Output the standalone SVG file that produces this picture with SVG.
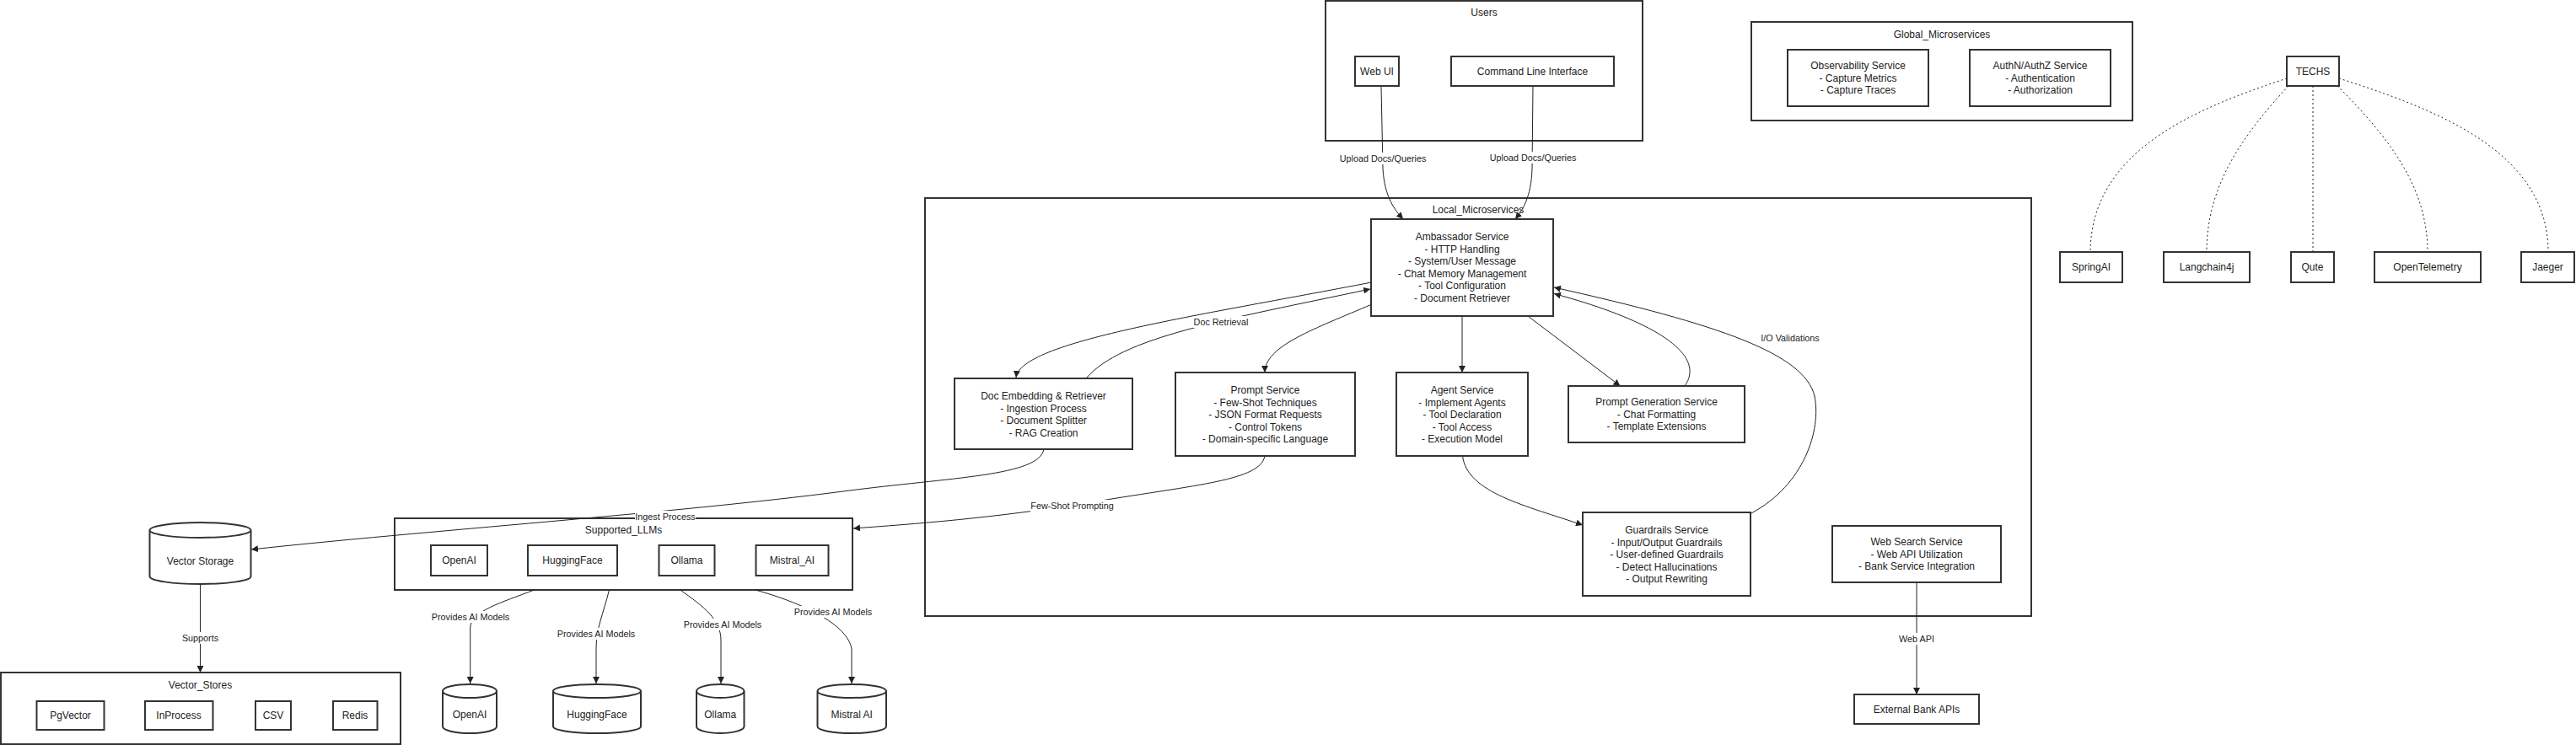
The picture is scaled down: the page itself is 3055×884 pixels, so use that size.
<svg xmlns="http://www.w3.org/2000/svg" width="3055" height="884" viewBox="0 0 3055 884">
<style>
.cl{fill:#fff;stroke:#333;stroke-width:2}
.nd{fill:#fff;stroke:#333;stroke-width:2}
.t{font-family:"Liberation Sans",Arial,sans-serif;font-size:12px;fill:#222;text-anchor:middle;dominant-baseline:central}
.el{font-family:"Liberation Sans",Arial,sans-serif;font-size:10.8px;fill:#222;text-anchor:middle;dominant-baseline:central}
.lb{fill:#fff;stroke:none}
.e{fill:none;stroke:#222;stroke-width:1}
.dot{stroke-dasharray:2 3}
</style>
<defs>
<marker id="ah" viewBox="0 0 10 10" refX="10" refY="5" markerWidth="8" markerHeight="8" markerUnits="userSpaceOnUse" orient="auto">
<path d="M0,0 L10,5 L0,10 z" fill="#222"/>
</marker>
</defs>
<rect width="3055" height="884" fill="#fff"/>

<!-- clusters -->
<g id="cluster-users"><rect class="cl" x="1572" y="1" width="376" height="166"/><text class="t" x="1760" y="15">Users</text></g>
<g id="cluster-global"><rect class="cl" x="2077" y="26" width="452" height="117"/><text class="t" x="2303" y="41">Global_Microservices</text></g>
<g id="cluster-local"><rect class="cl" x="1097" y="235" width="1312" height="496"/><text class="t" x="1753" y="249">Local_Microservices</text></g>
<g id="cluster-llms"><rect class="cl" x="468" y="615" width="543" height="85"/><text class="t" x="739.5" y="629">Supported_LLMs</text></g>
<g id="cluster-vstores"><rect class="cl" x="1" y="798" width="474" height="85"/><text class="t" x="237.5" y="813">Vector_Stores</text></g>

<!-- connectors -->
<g id="connectors">
<path class="e" marker-end="url(#ah)" d="M1638,102 L1640,200 C1642,235 1655,250 1664,260"/>
<path class="e" marker-end="url(#ah)" d="M1818,102 L1817,200 C1816,235 1805,250 1797,260"/>
<path class="e" marker-end="url(#ah)" d="M1626.5,335 C1420,375 1210,405 1205,448"/>
<path class="e" marker-end="url(#ah)" d="M1288,449 C1330,400 1450,380 1625,343"/>
<path class="e" marker-end="url(#ah)" d="M1627,361 C1560,390 1500,410 1500,442"/>
<path class="e" marker-end="url(#ah)" d="M1734,375 L1734,442"/>
<path class="e" marker-end="url(#ah)" d="M1812,375 L1921.5,458"/>
<path class="e" marker-end="url(#ah)" d="M1998,458 C2025,420 1960,380 1843,348.5"/>
<path class="e" marker-end="url(#ah)" d="M2077,609 C2140,575 2160,510 2152,470 C2140,420 2040,385 1843,341"/>
<path class="e" marker-end="url(#ah)" d="M1734.5,541 C1740,585 1810,600 1877,623"/>
<path class="e" marker-end="url(#ah)" d="M1238,533 C1232,565 1130,566 1000,583 C800,609 500,630 298,652"/>
<path class="e" marker-end="url(#ah)" d="M1500,541 C1495,570 1420,575 1300,595 C1180,615 1080,622 1012,627"/>
<path class="e" marker-end="url(#ah)" d="M2273,691 L2273,824"/>
<path class="e" marker-end="url(#ah)" d="M237.5,693 L237.5,798"/>
<path class="e" marker-end="url(#ah)" d="M633.5,700 C595,715 558,725 557.7,745 L557.7,811"/>
<path class="e" marker-end="url(#ah)" d="M722.5,700 C715,730 707,745 707,770 L707,811"/>
<path class="e" marker-end="url(#ah)" d="M806.7,700 C835,720 855,735 855,760 L855,811"/>
<path class="e" marker-end="url(#ah)" d="M895.8,700 C950,715 1005,740 1010,770 L1010,811"/>
<path class="e dot" d="M2712,93 C2600,130 2480,180 2479,299"/>
<path class="e dot" d="M2714,102 C2660,160 2617,220 2617,299"/>
<path class="e dot" d="M2743,102 L2743,299"/>
<path class="e dot" d="M2772,102 C2830,160 2879,220 2879,299"/>
<path class="e dot" d="M2774,93 C2890,130 3022,180 3022,299"/>
</g>

<!-- nodes -->
<g id="n-webui"><rect class="nd" x="1607" y="67" width="52" height="35"/><text class="t" x="1633" y="84.5">Web UI</text></g>
<g id="n-cli"><rect class="nd" x="1721" y="67" width="193" height="35"/><text class="t" x="1817.5" y="84.5">Command Line Interface</text></g>
<g id="n-obs"><rect class="nd" x="2120" y="59" width="167" height="67"/><text class="t"><tspan x="2203.5" y="78">Observability Service</tspan><tspan x="2203.5" y="92.5">- Capture Metrics</tspan><tspan x="2203.5" y="107">- Capture Traces</tspan></text></g>
<g id="n-auth"><rect class="nd" x="2336" y="59" width="167" height="67"/><text class="t"><tspan x="2419.5" y="78">AuthN/AuthZ Service</tspan><tspan x="2419.5" y="92.5">- Authentication</tspan><tspan x="2419.5" y="107">- Authorization</tspan></text></g>
<g id="n-techs"><rect class="nd" x="2712" y="67" width="62" height="35"/><text class="t" x="2743" y="84.5">TECHS</text></g>
<g id="n-springai"><rect class="nd" x="2443" y="299" width="74" height="36"/><text class="t" x="2480" y="317">SpringAI</text></g>
<g id="n-langchain4j"><rect class="nd" x="2566" y="299" width="102" height="36"/><text class="t" x="2617" y="317">Langchain4j</text></g>
<g id="n-qute"><rect class="nd" x="2717" y="299" width="51" height="36"/><text class="t" x="2742.5" y="317">Qute</text></g>
<g id="n-otel"><rect class="nd" x="2816" y="299" width="126" height="36"/><text class="t" x="2879" y="317">OpenTelemetry</text></g>
<g id="n-jaeger"><rect class="nd" x="2990" y="299" width="63" height="36"/><text class="t" x="3021.5" y="317">Jaeger</text></g>

<g id="n-ambassador"><rect class="nd" x="1626" y="260" width="216" height="115"/><text class="t"><tspan x="1734" y="281">Ambassador Service</tspan><tspan x="1734" y="295.5">- HTTP Handling</tspan><tspan x="1734" y="310">- System/User Message</tspan><tspan x="1734" y="324.5">- Chat Memory Management</tspan><tspan x="1734" y="339">- Tool Configuration</tspan><tspan x="1734" y="353.5">- Document Retriever</tspan></text></g>
<g id="n-docemb"><rect class="nd" x="1132" y="449" width="211" height="84"/><text class="t"><tspan x="1237.5" y="470">Doc Embedding &amp; Retriever</tspan><tspan x="1237.5" y="484.5">- Ingestion Process</tspan><tspan x="1237.5" y="499">- Document Splitter</tspan><tspan x="1237.5" y="513.5">- RAG Creation</tspan></text></g>
<g id="n-prompt"><rect class="nd" x="1394" y="442" width="213" height="99"/><text class="t"><tspan x="1500.5" y="463">Prompt Service</tspan><tspan x="1500.5" y="477.5">- Few-Shot Techniques</tspan><tspan x="1500.5" y="492">- JSON Format Requests</tspan><tspan x="1500.5" y="506.5">- Control Tokens</tspan><tspan x="1500.5" y="521">- Domain-specific Language</tspan></text></g>
<g id="n-agent"><rect class="nd" x="1656" y="442" width="156" height="99"/><text class="t"><tspan x="1734" y="463">Agent Service</tspan><tspan x="1734" y="477.5">- Implement Agents</tspan><tspan x="1734" y="492">- Tool Declaration</tspan><tspan x="1734" y="506.5">- Tool Access</tspan><tspan x="1734" y="521">- Execution Model</tspan></text></g>
<g id="n-promptgen"><rect class="nd" x="1860" y="458" width="209" height="67"/><text class="t"><tspan x="1964.5" y="477">Prompt Generation Service</tspan><tspan x="1964.5" y="491.5">- Chat Formatting</tspan><tspan x="1964.5" y="506">- Template Extensions</tspan></text></g>
<g id="n-guardrails"><rect class="nd" x="1877" y="608" width="199" height="99"/><text class="t"><tspan x="1976.5" y="629">Guardrails Service</tspan><tspan x="1976.5" y="643.5">- Input/Output Guardrails</tspan><tspan x="1976.5" y="658">- User-defined Guardrails</tspan><tspan x="1976.5" y="672.5">- Detect Hallucinations</tspan><tspan x="1976.5" y="687">- Output Rewriting</tspan></text></g>
<g id="n-websearch"><rect class="nd" x="2173" y="624" width="200" height="67"/><text class="t"><tspan x="2273" y="643">Web Search Service</tspan><tspan x="2273" y="657.5">- Web API Utilization</tspan><tspan x="2273" y="672">- Bank Service Integration</tspan></text></g>
<g id="n-extbank"><rect class="nd" x="2199" y="824" width="148" height="35"/><text class="t" x="2273" y="841.5">External Bank APIs</text></g>

<g id="n-llm-openai"><rect class="nd" x="511" y="647" width="67" height="36"/><text class="t" x="544.5" y="665">OpenAI</text></g>
<g id="n-llm-hf"><rect class="nd" x="626" y="647" width="106" height="36"/><text class="t" x="679" y="665">HuggingFace</text></g>
<g id="n-llm-ollama"><rect class="nd" x="781.5" y="647" width="66" height="36"/><text class="t" x="814.5" y="665">Ollama</text></g>
<g id="n-llm-mistral"><rect class="nd" x="896.5" y="647" width="86" height="36"/><text class="t" x="939.5" y="665">Mistral_AI</text></g>

<g id="n-vectorstorage"><path class="nd" d="M177.5,629 a60,9 0 0 0 120,0 a60,9 0 0 0 -120,0 l0,55 a60,9 0 0 0 120,0 l0,-55"/><text class="t" x="237.5" y="666">Vector Storage</text></g>
<g id="n-pgvector"><rect class="nd" x="43.5" y="832" width="80" height="34"/><text class="t" x="83.5" y="849">PgVector</text></g>
<g id="n-inprocess"><rect class="nd" x="172" y="832" width="80.5" height="34"/><text class="t" x="212" y="849">InProcess</text></g>
<g id="n-csv"><rect class="nd" x="303" y="832" width="42" height="34"/><text class="t" x="324" y="849">CSV</text></g>
<g id="n-redis"><rect class="nd" x="395" y="832" width="52.5" height="34"/><text class="t" x="421" y="849">Redis</text></g>

<g id="n-cyl-openai"><path class="nd" d="M525,820 a32,8 0 0 0 64,0 a32,8 0 0 0 -64,0 l0,42 a32,8 0 0 0 64,0 l0,-42"/><text class="t" x="557" y="848">OpenAI</text></g>
<g id="n-cyl-hf"><path class="nd" d="M656,820 a52,8 0 0 0 104,0 a52,8 0 0 0 -104,0 l0,42 a52,8 0 0 0 104,0 l0,-42"/><text class="t" x="708" y="848">HuggingFace</text></g>
<g id="n-cyl-ollama"><path class="nd" d="M826,820 a28.25,8 0 0 0 56.5,0 a28.25,8 0 0 0 -56.5,0 l0,42 a28.25,8 0 0 0 56.5,0 l0,-42"/><text class="t" x="854.25" y="848">Ollama</text></g>
<g id="n-cyl-mistral"><path class="nd" d="M969.5,820 a40.75,8 0 0 0 81.5,0 a40.75,8 0 0 0 -81.5,0 l0,42 a40.75,8 0 0 0 81.5,0 l0,-42"/><text class="t" x="1010.25" y="848">Mistral AI</text></g>

<!-- edge labels -->
<g id="edge-labels">
<rect class="lb" x="1588" y="181" width="104" height="14"/><text class="el" x="1640" y="188">Upload Docs/Queries</text>
<rect class="lb" x="1766" y="180" width="104" height="14"/><text class="el" x="1818" y="187">Upload Docs/Queries</text>
<rect class="lb" x="1415" y="375" width="66" height="14"/><text class="el" x="1448" y="382">Doc Retrieval</text>
<rect class="lb" x="2088" y="394" width="71" height="14"/><text class="el" x="2123" y="401">I/O Validations</text>
<rect class="lb" x="753" y="606" width="72" height="14"/><text class="el" x="789" y="613">Ingest Process</text>
<rect class="lb" x="1222" y="593" width="99" height="14"/><text class="el" x="1271.5" y="600">Few-Shot Prompting</text>
<rect class="lb" x="2251" y="751" width="44" height="14"/><text class="el" x="2273" y="758">Web API</text>
<rect class="lb" x="215" y="750" width="45" height="14"/><text class="el" x="237.5" y="757">Supports</text>
<rect class="lb" x="511" y="725" width="94" height="14"/><text class="el" x="558" y="732">Provides AI Models</text>
<rect class="lb" x="660" y="745" width="94" height="14"/><text class="el" x="707" y="752">Provides AI Models</text>
<rect class="lb" x="810" y="734" width="94" height="14"/><text class="el" x="857" y="741">Provides AI Models</text>
<rect class="lb" x="941" y="719" width="94" height="14"/><text class="el" x="988" y="726">Provides AI Models</text>
</g>
</svg>
